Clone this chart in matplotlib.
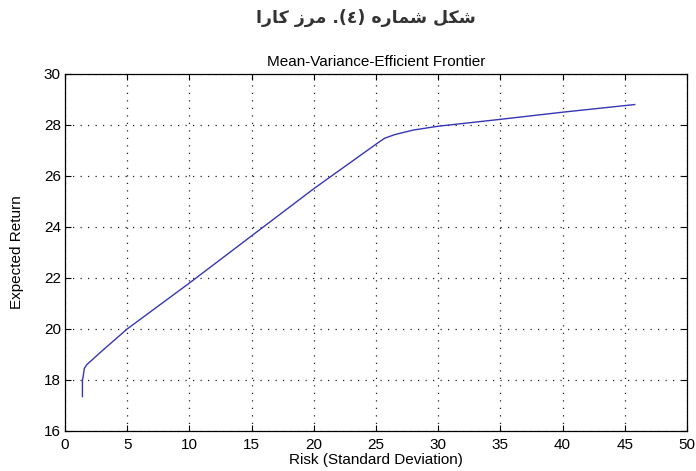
import matplotlib
matplotlib.use('Agg')
import matplotlib.pyplot as plt
import numpy as np

# efficient frontier
risk = [1.4, 1.4, 1.45, 1.55, 1.75, 3.0, 5.0, 10.0, 15.0, 20.0, 25.1, 25.7, 26.5, 28.0, 30.0, 35.0, 40.0, 45.8]
ret = [17.35, 18.0, 18.1, 18.45, 18.6, 19.15, 20.0, 21.8, 23.65, 25.5, 27.28, 27.48, 27.62, 27.8, 27.95, 28.22, 28.5, 28.8]

x_ticks = list(range(0, 51, 5))
y_ticks = list(range(16, 31, 2))

# persian caption in visual order with presentation forms (no shaping in matplotlib)
# logical text: "شکل شماره (٤). مرز کارا"
caption = ('\uFE8D\uFEAD\uFE8E\uFB90' + ' ' +
           '\uFEAF\uFEAE\uFEE3' + ' ' +
           '.(\u0664)' + ' ' +
           '\uFEE9\uFEAD\uFE8E\uFEE4\uFEB7' + ' ' +
           '\uFEDE\uFB91\uFEB7')

plt.rcParams['font.family'] = ['Liberation Sans', 'DejaVu Sans']

fig = plt.figure(figsize=(6.96, 4.71), dpi=100)
ax = fig.add_axes([0.0934, 0.085, 0.8936, 0.758])

ax.plot(risk, ret, color='#3636b4', linewidth=1.0)

ax.set_xlim(0, 50)
ax.set_ylim(16, 30)
ax.set_xticks(x_ticks)
ax.set_yticks(y_ticks)
ax.grid(True, color='#222222', linestyle=(0, (1, 5)), linewidth=0.9)
ax.tick_params(direction='in', top=True, right=True, length=4, labelsize=11)
ax.tick_params(axis='x', pad=5)
ax.tick_params(axis='y', pad=3)
for s in ax.spines.values():
    s.set_linewidth(0.9)

ax.set_title('Mean-Variance-Efficient Frontier', fontsize=11, pad=6)
ax.set_xlabel('Risk (Standard Deviation)', fontsize=11, labelpad=1)
ax.set_ylabel('Expected Return', fontsize=11, labelpad=14)

fig.text(0.525, 0.962, caption, family=['DejaVu Sans'], fontweight='bold',
         fontsize=12.5, ha='center', va='center', color='#333333')

fig.savefig('out.png', dpi=100)
